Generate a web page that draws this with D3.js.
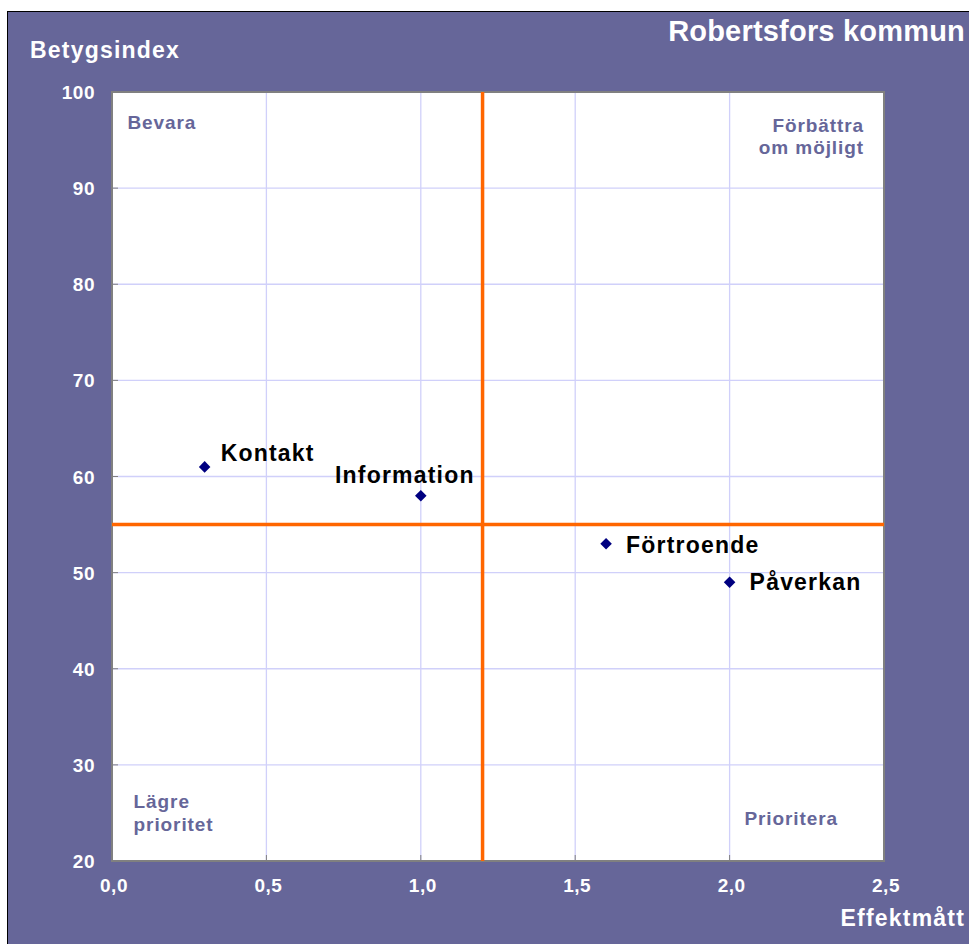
<!DOCTYPE html>
<html>
<head>
<meta charset="utf-8">
<script src="https://cdn.jsdelivr.net/npm/d3@7"></script>
<style>
  body { margin: 0; background: #fff; }
  text { font-family: "Liberation Sans", Arial, sans-serif; font-weight: bold; }
</style>
</head>
<body>
<div id="chart"></div>
<script>
// data
var names = ["Kontakt", "Information", "Förtroende", "Påverkan"];
var effekt = [0.3, 1.0, 1.6, 2.0];
var betyg = [61, 58, 53, 49];
var xTicks = [0, 0.5, 1.0, 1.5, 2.0, 2.5];
var yTicks = [20, 30, 40, 50, 60, 70, 80, 90, 100];
var xSplit = 1.2, ySplit = 55;
var quadrants = [
  {lines: ["Bevara"], x: 0.05, y: 96.15, anchor: "start"},
  {lines: ["Förbättra", "om möjligt"], x: 2.435, y: 95.84, anchor: "end"},
  {lines: ["Lägre", "prioritet"], x: 0.07, y: 25.5, anchor: "start"},
  {lines: ["Prioritera"], x: 2.048, y: 23.74, anchor: "start"}
];

var svg = d3.select("#chart").append("svg")
    .attr("width", 969)
    .attr("height", 944),
    margin = {top: 92, left: 112},
    width = 772,
    height = 769;

// frame
svg.append("rect").attr("x", 7.5).attr("y", 11.5).attr("width", 970).attr("height", 940)
    .attr("fill", "#666699").attr("stroke", "#000").attr("stroke-width", 1);

var x = d3.scaleLinear().domain([0, 2.5]).range([0, width]);
var y = d3.scaleLinear().domain([20, 100]).range([height, 0]);

var g = svg.append("g")
    .attr("transform", "translate(" + margin.left + "," + margin.top + ")");

g.append("rect").attr("width", width).attr("height", height).attr("fill", "#fff");

// grid
g.selectAll(".vgrid").data(xTicks.slice(1, -1)).enter().append("line")
    .attr("x1", function(d) { return x(d); }).attr("x2", function(d) { return x(d); })
    .attr("y1", 0).attr("y2", height)
    .attr("stroke", "#d0d0fa").attr("stroke-width", 1.3);
g.selectAll(".hgrid").data(yTicks.slice(1, -1)).enter().append("line")
    .attr("y1", function(d) { return y(d); }).attr("y2", function(d) { return y(d); })
    .attr("x1", 0).attr("x2", width)
    .attr("stroke", "#d0d0fa").attr("stroke-width", 1.3);

// inner ticks
g.selectAll(".ytick").data(yTicks).enter().append("line")
    .attr("y1", function(d) { return y(d); }).attr("y2", function(d) { return y(d); })
    .attr("x1", 0).attr("x2", 6).attr("stroke", "#808080");
g.selectAll(".xtick").data(xTicks).enter().append("line")
    .attr("x1", function(d) { return x(d); }).attr("x2", function(d) { return x(d); })
    .attr("y1", height).attr("y2", height - 6).attr("stroke", "#808080");

// border
g.append("rect").attr("width", width).attr("height", height)
    .attr("fill", "none").attr("stroke", "#808080").attr("stroke-width", 2);

// quadrant lines
g.append("line").attr("x1", x(xSplit)).attr("x2", x(xSplit)).attr("y1", 0).attr("y2", height)
    .attr("stroke", "#ff6600").attr("stroke-width", 3.5);
g.append("line").attr("y1", y(ySplit)).attr("y2", y(ySplit)).attr("x1", 0).attr("x2", width)
    .attr("stroke", "#ff6600").attr("stroke-width", 3.5);

// quadrant labels
quadrants.forEach(function(q) {
  var t = g.append("text")
      .attr("x", x(q.x)).attr("y", y(q.y))
      .attr("text-anchor", q.anchor)
      .attr("fill", "#666699")
      .style("font-size", "19px").style("letter-spacing", "0.9px");
  q.lines.forEach(function(l, i) {
    t.append("tspan").attr("x", x(q.x)).attr("dy", i ? 22.5 : 0).text(l);
  });
});

// points
var data = names.map(function(n, i) { return {name: n, x: effekt[i], y: betyg[i]}; });

g.selectAll(".pt").data(data).enter().append("path")
    .attr("d", d3.symbol().type(d3.symbolDiamond2).size(85))
    .attr("transform", function(d) { return "translate(" + x(d.x) + "," + y(d.y) + ")"; })
    .attr("fill", "#000080");

var labelOff = {"Kontakt": [16, -6], "Information": [-16, -13], "Förtroende": [20, 9], "Påverkan": [20, 8]};
g.selectAll(".lbl").data(data).enter().append("text")
    .attr("x", function(d) { return x(d.x) + labelOff[d.name][0]; })
    .attr("y", function(d) { return y(d.y) + labelOff[d.name][1]; })
    .attr("text-anchor", function(d) { return d.name == "Information" ? "middle" : "start"; })
    .attr("fill", "#000")
    .style("font-size", "23px").style("letter-spacing", "1.2px")
    .text(function(d) { return d.name; });

// tick labels
g.selectAll(".ylab").data(yTicks).enter().append("text")
    .attr("x", -17).attr("y", function(d) { return y(d) + 7; })
    .attr("text-anchor", "end").attr("fill", "#fff")
    .style("font-size", "19px").style("letter-spacing", "0.5px")
    .text(function(d) { return d; });
g.selectAll(".xlab").data(xTicks).enter().append("text")
    .attr("x", function(d) { return x(d) + 2; }).attr("y", height + 31)
    .attr("text-anchor", "middle").attr("fill", "#fff")
    .style("font-size", "19px").style("letter-spacing", "0.5px")
    .text(function(d) { return d3.format(".1f")(d).replace(".", ","); });

// titles
svg.append("text").attr("x", 30).attr("y", 58).attr("fill", "#fff")
    .style("font-size", "23px").style("letter-spacing", "1.2px").text("Betygsindex");
svg.append("text").attr("x", 965).attr("y", 926).attr("text-anchor", "end").attr("fill", "#fff")
    .style("font-size", "23px").style("letter-spacing", "1.2px").text("Effektmått");
svg.append("text").attr("x", 965).attr("y", 41).attr("text-anchor", "end").attr("fill", "#fff")
    .style("font-size", "29px").style("letter-spacing", "0.2px").text("Robertsfors kommun");
</script>
</body>
</html>
